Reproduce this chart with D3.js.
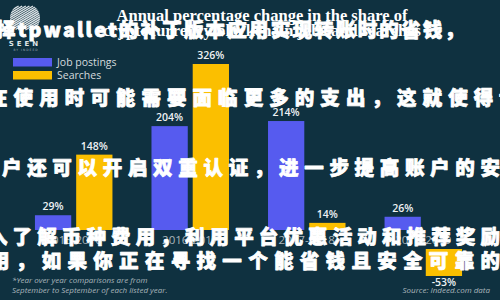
<!DOCTYPE html>
<html>
<head>
<meta charset="utf-8">
<script src="https://cdn.jsdelivr.net/npm/d3@7"></script>
<style>
  body { margin: 0; background: #0f3140; }
  svg { display: block; }
</style>
</head>
<body>
<div id="container"></div>
<script>
// data
var periods = ["2015-2016", "2016-2017", "2017-2018", "2018-2019"];
var seriesNames = ["Job postings", "Searches"];
var jobPostings = [29, 204, 214, 26];
var searches = [148, 326, 14, -53];
var titleLines = ["Annual percentage change in the share of", "cryptocurrency/blockchain jobs and searches"];
var noteLines = ["*Year over year comparisons are from", "September to September of each listed year."];
var sourceText = "Source: Indeed.com data";
var overlayLines = [
  "择tpwallet的补丁版本应用实现转账时的省钱，",
  "在使用时可能需要面临更多的支出，这就使得t",
  "户还可以开启双重认证，进一步提高账户的安",
  "入了解币种费用，利用平台优惠活动和推荐奖励",
  "用，如果你正在寻找一个能省钱且安全可靠的"
];

var width = 500;
var height = 300;
var colors = ["#565bef", "#fbbf00"];

var svg = d3.select("#container")
  .append("svg")
  .attr("width", width)
  .attr("height", height);

svg.append("rect")
  .attr("width", width)
  .attr("height", height)
  .attr("fill", "#0f3140");

// logo
var defs = svg.append("defs");
defs.append("clipPath").attr("id", "logo-clip")
  .append("circle").attr("cx", 25).attr("cy", 18).attr("r", 15);
var logo = svg.append("g").attr("clip-path", "url(#logo-clip)");
d3.range(-30, 34, 3.6).forEach(function(o) {
  logo.append("line")
    .attr("x1", 25 + o - 20).attr("y1", 18 + 12)
    .attr("x2", 25 + o + 20).attr("y2", 18 - 12)
    .attr("stroke", "#dfe5e8")
    .attr("stroke-width", 1.4);
});
svg.append("text")
  .attr("x", 25).attr("y", 46)
  .attr("text-anchor", "middle")
  .attr("fill", "#dfe5e8")
  .style("font", "bold 7px 'DejaVu Sans'")
  .style("letter-spacing", "3px")
  .text("SEEN");
svg.append("text")
  .attr("x", 26).attr("y", 51)
  .attr("text-anchor", "middle")
  .attr("fill", "#9fb0b8")
  .style("font", "3px 'DejaVu Sans'")
  .style("letter-spacing", "1px")
  .text("BY INDEED");

// title
svg.selectAll(".title")
  .data(titleLines)
  .enter()
  .append("text")
  .attr("class", "title")
  .attr("x", 262)
  .attr("y", (d, i) => 21 + i * 15)
  .attr("text-anchor", "middle")
  .attr("fill", "#ffffff")
  .style("font", "bold 16.5px 'Liberation Serif'")
  .text(d => d);

// legend
var legend = svg.selectAll(".legend")
  .data(seriesNames)
  .enter()
  .append("g")
  .attr("class", "legend")
  .attr("transform", (d, i) => "translate(13," + (58 + i * 13) + ")");
legend.append("rect")
  .attr("width", 39)
  .attr("height", 8.5)
  .attr("fill", (d, i) => colors[i]);
legend.append("text")
  .attr("x", 44)
  .attr("y", 8)
  .attr("fill", "#d5dbde")
  .style("font", "10.5px 'Open Sans'")
  .text(d => d);

// scales
var baseline = 230;
var x0 = d3.scaleBand()
  .domain(periods)
  .range([30, 467])
  .paddingInner(0.25)
  .paddingOuter(0);
var x1 = d3.scaleBand()
  .domain(seriesNames)
  .range([0, x0.bandwidth()])
  .padding(0.12);
var y = d3.scaleLinear()
  .domain([0, 326])
  .range([baseline, 64]);
var negGap = 19; // negative bars sit under the period labels

var rows = periods.map((p, i) => ({
  period: p,
  values: [jobPostings[i], searches[i]].map((v, j) => ({ period: p, series: seriesNames[j], value: v, idx: j }))
}));

var groups = svg.selectAll(".group")
  .data(rows)
  .enter()
  .append("g")
  .attr("class", "group")
  .attr("transform", d => "translate(" + x0(d.period) + ",0)");

var cells = groups.selectAll("g")
  .data(d => d.values)
  .enter()
  .append("g");

cells.append("rect")
  .attr("x", d => x1(d.series))
  .attr("width", x1.bandwidth())
  .attr("y", d => d.value >= 0 ? y(d.value) : y(0) + negGap)
  .attr("height", d => Math.abs(y(d.value) - y(0)))
  .attr("fill", d => colors[d.idx]);

cells.append("text")
  .attr("x", d => x1(d.series) + x1.bandwidth() / 2)
  .attr("y", d => d.value >= 0 ? y(d.value) - 5 : y(0) + negGap + (y(d.value) - y(0)) + 10)
  .attr("text-anchor", "middle")
  .attr("fill", "#eef2f4")
  .style("font", "600 10.5px 'Open Sans'")
  .text(d => d.value + "%");

// period labels
svg.selectAll(".period")
  .data(periods)
  .enter()
  .append("text")
  .attr("class", "period")
  .attr("x", d => x0(d) + x0.bandwidth() / 2)
  .attr("y", baseline + 14)
  .attr("text-anchor", "middle")
  .attr("fill", "#a9b5bb")
  .style("font", "11.5px 'Open Sans'")
  .text(d => d);

// footnotes
svg.selectAll(".note")
  .data(noteLines)
  .enter()
  .append("text")
  .attr("class", "note")
  .attr("x", 12)
  .attr("y", (d, i) => 283 + i * 10)
  .attr("fill", "#aab6bc")
  .style("font", "italic 8px 'Open Sans'")
  .text(d => d);
svg.append("text")
  .attr("x", 490)
  .attr("y", 293)
  .attr("text-anchor", "end")
  .attr("fill", "#aab6bc")
  .style("font", "italic 8px 'Open Sans'")
  .text(sourceText);

// overlaid text
var overlayX = [-4, -12, 2, -12, -10];
var overlayY = [37, 105, 175, 244, 268];
var overlayLen = [468, 520, 498, 512, 510];
svg.selectAll(".overlay")
  .data(overlayLines)
  .enter()
  .append("text")
  .attr("class", "overlay")
  .attr("x", (d, i) => overlayX[i])
  .attr("y", (d, i) => overlayY[i])
  .attr("textLength", (d, i) => overlayLen[i])
  .attr("lengthAdjust", "spacing")
  .attr("fill", "#ffffff")
  .attr("stroke", "#ffffff")
  .attr("stroke-width", 0.8)
  .attr("stroke-linejoin", "round")
  .style("font", "900 19.5px 'Noto Sans CJK SC'")
  .text(d => d);
</script>
</body>
</html>
